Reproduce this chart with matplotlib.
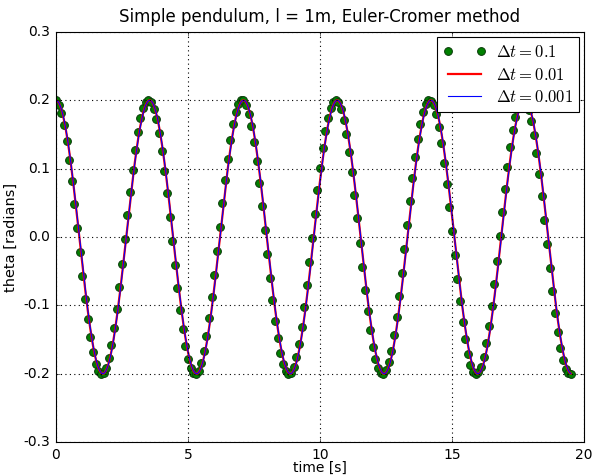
import numpy as np
import matplotlib
matplotlib.use("Agg")
import matplotlib.pyplot as plt

plt.style.use("classic")
plt.rcParams["mathtext.fontset"] = "cm"
plt.rcParams["font.family"] = ["DejaVu Sans"]

# Parameters
theta0 = 0.2          # initial angle [rad]
omega0 = 0.0          # initial angular velocity
g_over_l = 3.13       # gives period ~3.55 s as seen in the chart
t_end = 19.5          # last plotted time [s]
time_steps = [0.1, 0.01, 0.001]
labels = [r"$\Delta t = 0.1$", r"$\Delta t = 0.01$", r"$\Delta t = 0.001$"]
styles = ["go", "r-", "b-"]
linewidths = [1, 2, 1]

title = "Simple pendulum, l = 1m, Euler-Cromer method"
xlabel = "time [s]"
ylabel = "theta [radians]"
xticks = [0, 5, 10, 15, 20]
yticks = [-0.3, -0.2, -0.1, 0.0, 0.1, 0.2, 0.3]


def euler_cromer(dt):
    n = int(round(t_end / dt)) + 1
    t = np.zeros(n)
    th = np.zeros(n)
    w = omega0
    th[0] = theta0
    for i in range(n - 1):
        w = w - g_over_l * th[i] * dt
        th[i + 1] = th[i] + w * dt
        t[i + 1] = t[i] + dt
    return t, th


fig = plt.figure(figsize=(593 / 80, 476 / 80), dpi=80, facecolor="white")
ax = fig.add_axes([56 / 593, 34 / 476, (584 - 56) / 593, (442 - 32) / 476])

for dt, lab, st, lw in zip(time_steps, labels, styles, linewidths):
    t, th = euler_cromer(dt)
    if st == "go":
        ax.plot(t, th, st, label=lab, markersize=7, markeredgecolor="#0a3a0a",
                markeredgewidth=0.9)
    else:
        ax.plot(t, th, st, label=lab, linewidth=lw)

ax.set_xlim(0, 20)
ax.set_ylim(-0.3, 0.3)
ax.set_xticks(xticks)
ax.set_yticks(yticks)
ax.set_xticklabels([str(v) for v in xticks])
ax.set_yticklabels([f"{v:.1f}" for v in yticks])
ax.grid(True, color="black", linestyle=":", linewidth=1)
ax.set_title(title, fontsize=15, y=1.01)
ax.set_xlabel(xlabel, fontsize=12.5, labelpad=-1)
ax.set_ylabel(ylabel, fontsize=13, labelpad=5)
ax.tick_params(labelsize=12.5, pad=5)
leg = ax.legend(loc="upper right", numpoints=2, fontsize=15, handlelength=2.6,
                borderaxespad=0.3, labelspacing=0.28, handletextpad=0.6,
                borderpad=0.35)

fig.savefig("out.png", dpi=80, facecolor="white")
